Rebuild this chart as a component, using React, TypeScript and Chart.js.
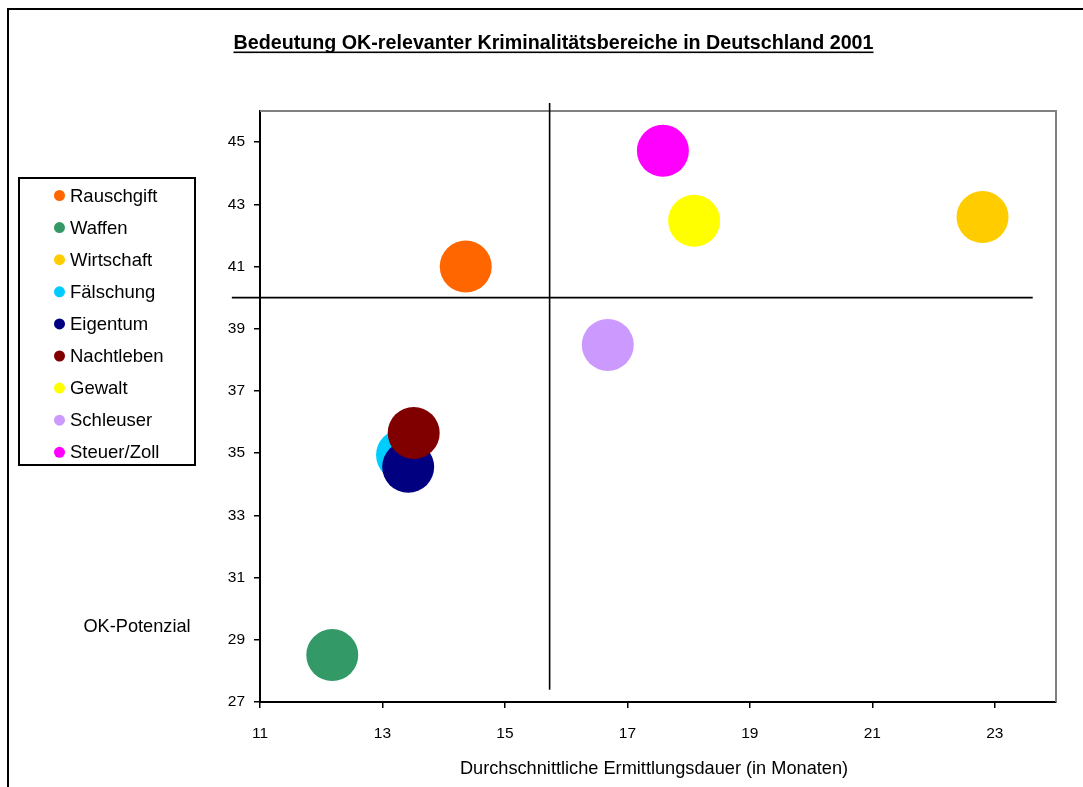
import React, { useEffect, useRef } from "react";
import { Chart, registerables } from "chart.js";

Chart.register(...registerables);

const CATEGORIES = [
  "Rauschgift",
  "Waffen",
  "Wirtschaft",
  "Fälschung",
  "Eigentum",
  "Nachtleben",
  "Gewalt",
  "Schleuser",
  "Steuer/Zoll",
];
const DURATION = [14.36, 12.18, 22.8, 13.32, 13.42, 13.51, 18.09, 16.68, 17.58];
const POTENTIAL = [41.0, 28.51, 42.59, 34.94, 34.56, 35.65, 42.47, 38.48, 44.72];
const COLORS = [
  "#FF6600",
  "#339966",
  "#FFCC00",
  "#00CCFF",
  "#000080",
  "#800000",
  "#FFFF00",
  "#CC99FF",
  "#FF00FF",
];
const X_TICKS = [11, 13, 15, 17, 19, 21, 23];
const Y_TICKS = [27, 29, 31, 33, 35, 37, 39, 41, 43, 45];
const X_MEAN = 15.73;
const Y_MEAN = 40;
const V_LINE_Y = [46.26, 27.39];
const H_LINE_X = [10.54, 23.62];

const TITLE = "Bedeutung OK-relevanter Kriminalitätsbereiche in Deutschland 2001";
const X_TITLE = "Durchschnittliche Ermittlungsdauer (in Monaten)";
const Y_TITLE = "OK-Potenzial";
const FONT = "'Liberation Sans', Arial, sans-serif";

const decorPlugin = {
  id: "decor",
  beforeDraw(chart: any) {
    const ctx = chart.ctx;
    ctx.save();
    ctx.fillStyle = "#ffffff";
    ctx.fillRect(0, 0, chart.width, chart.height);
    // outer border
    ctx.strokeStyle = "#000000";
    ctx.lineWidth = 2;
    ctx.strokeRect(8, 9, 3000, 3000);
    // title
    ctx.fillStyle = "#000000";
    ctx.font = `bold 19.7px ${FONT}`;
    ctx.textAlign = "center";
    ctx.textBaseline = "middle";
    ctx.fillText(TITLE, 553.5, 44);
    const w = ctx.measureText(TITLE).width;
    ctx.fillRect(553.5 - w / 2, 51.5, w, 1.6);
    // y title
    ctx.font = `18.2px ${FONT}`;
    ctx.fillText(Y_TITLE, 137, 627);
    // x title
    ctx.fillText(X_TITLE, 654, 769);
    // legend
    ctx.lineWidth = 2;
    ctx.strokeRect(19, 178, 176, 287);
    ctx.font = `18.5px ${FONT}`;
    ctx.textAlign = "left";
    chart.data.datasets.forEach((ds: any, i: number) => {
      if (ds.type === "line") return;
      const y = 195.5 + i * 32.1;
      ctx.fillStyle = ds.backgroundColor;
      ctx.beginPath();
      ctx.arc(59.5, y, 5.5, 0, Math.PI * 2);
      ctx.fill();
      ctx.fillStyle = "#000000";
      ctx.fillText(ds.label, 70, y + 1);
    });
    ctx.restore();
  },
  beforeDatasetsDraw(chart: any) {
    const { ctx, chartArea } = chart;
    ctx.save();
    ctx.strokeStyle = "#808080";
    ctx.lineWidth = 2;
    ctx.beginPath();
    ctx.moveTo(chartArea.left, chartArea.top);
    ctx.lineTo(chartArea.right, chartArea.top);
    ctx.lineTo(chartArea.right, chartArea.bottom);
    ctx.stroke();
    ctx.restore();
  },
};

export default function App() {
  const ref = useRef<HTMLCanvasElement | null>(null);
  useEffect(() => {
    if (!ref.current) return;
    const bubbles = CATEGORIES.map((label, i) => ({
      type: "bubble" as const,
      label,
      data: [{ x: DURATION[i], y: POTENTIAL[i], r: 26 }],
      backgroundColor: COLORS[i],
      borderWidth: 0,
      hoverBorderWidth: 0,
      order: 20 - i,
    }));
    const lines: any[] = [
      {
        type: "line",
        label: "vline",
        data: [
          { x: X_MEAN, y: V_LINE_Y[0] },
          { x: X_MEAN, y: V_LINE_Y[1] },
        ],
        borderColor: "#000000",
        borderWidth: 1.6,
        pointRadius: 0,
        clip: false,
        order: 1,
      },
      {
        type: "line",
        label: "hline",
        data: [
          { x: H_LINE_X[0], y: Y_MEAN },
          { x: H_LINE_X[1], y: Y_MEAN },
        ],
        borderColor: "#000000",
        borderWidth: 1.6,
        pointRadius: 0,
        clip: false,
        order: 1,
      },
    ];
    const chart = new Chart(ref.current, {
      type: "bubble",
      data: { datasets: [...bubbles, ...lines] as any },
      options: {
        animation: false,
        responsive: false,
        devicePixelRatio: 1,
        layout: { autoPadding: false, padding: { left: 0, top: 111, right: 27, bottom: 0 } },
        plugins: { legend: { display: false }, tooltip: { enabled: false }, title: { display: false } },
        events: [],
        scales: {
          x: {
            type: "linear",
            min: 11,
            max: 24,
            afterBuildTicks: (s: any) => {
              s.ticks = X_TICKS.map((v) => ({ value: v }));
            },
            afterFit: (s: any) => {
              s.height = 85;
            },
            grid: { drawOnChartArea: false, drawTicks: true, tickLength: 6, color: "#000000", lineWidth: 1.5 },
            border: { display: true, color: "#000000", width: 2 },
            ticks: { color: "#000000", font: { family: FONT, size: 15.5 }, padding: 16, maxRotation: 0, autoSkip: false },
          },
          y: {
            type: "linear",
            min: 27,
            max: 46,
            afterBuildTicks: (s: any) => {
              s.ticks = Y_TICKS.map((v) => ({ value: v }));
            },
            afterFit: (s: any) => {
              s.width = 260;
            },
            grid: { drawOnChartArea: false, drawTicks: true, tickLength: 6, color: "#000000", lineWidth: 1.5 },
            border: { display: true, color: "#000000", width: 2 },
            ticks: { color: "#000000", font: { family: FONT, size: 15.5 }, padding: 9, autoSkip: false },
          },
        },
      },
      plugins: [decorPlugin],
    });
    return () => chart.destroy();
  }, []);
  return (
    <div style={{ position: "fixed", left: 0, top: 0, width: 1083, height: 787, background: "#fff" }}>
      <canvas ref={ref} width={1083} height={787} style={{ width: 1083, height: 787, display: "block" }} />
    </div>
  );
}
